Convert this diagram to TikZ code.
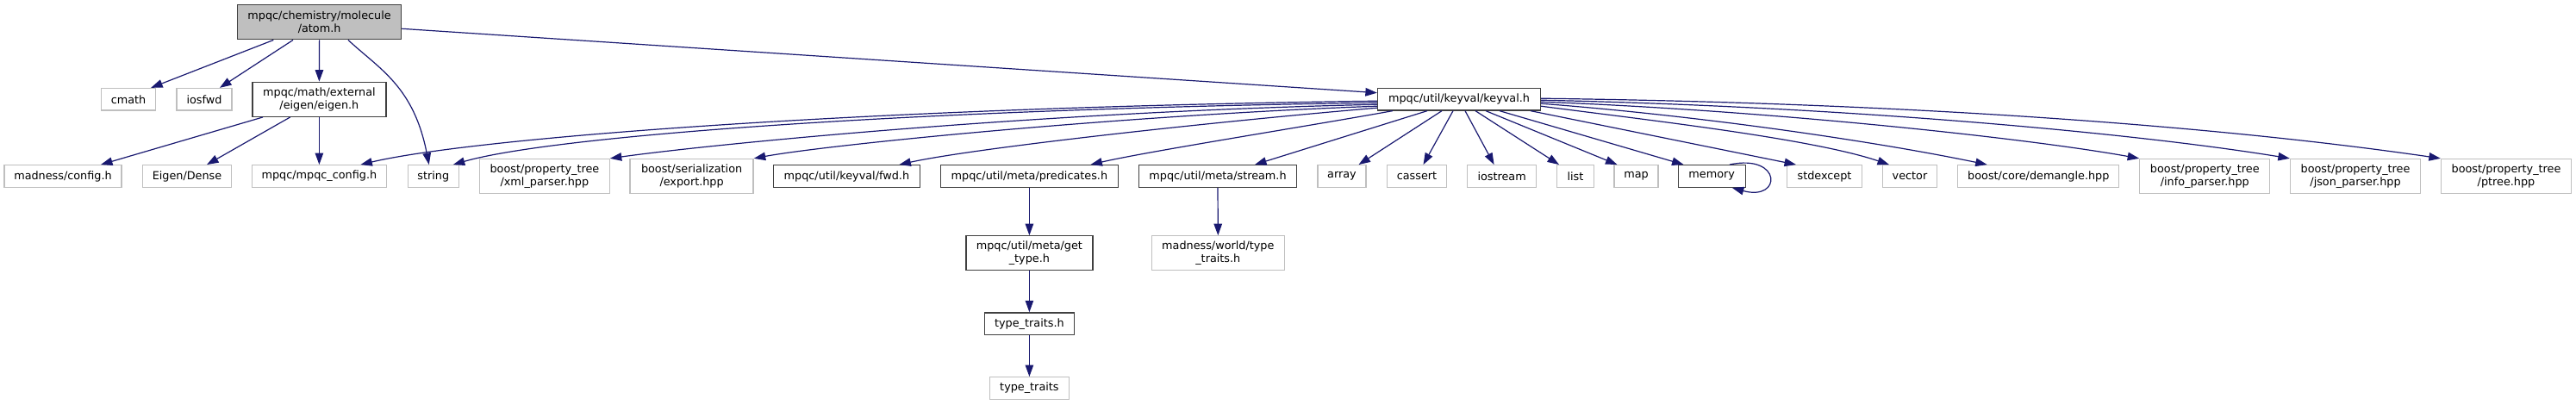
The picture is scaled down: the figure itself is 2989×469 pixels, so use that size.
\documentclass[tikz,border=0pt]{standalone}
\usepackage{fontspec}
\setmainfont{DejaVu Sans}
\usetikzlibrary{arrows.meta,calc}
\definecolor{edgeblue}{HTML}{191970}
\definecolor{extgray}{HTML}{BFBFBF}
\definecolor{intgray}{HTML}{404040}
\tikzset{
  box/.style={rectangle, inner sep=0pt, align=center, line width=1.3pt,
    font=\fontsize{12.8}{15}\selectfont, fill=white, minimum height=25.6pt},
  ext/.style={box, draw=extgray},
  intn/.style={box, draw=intgray},
  rootn/.style={box, draw=intgray, fill=extgray},
  two/.style={minimum height=40pt},
  edge/.style={draw=edgeblue, line width=1.2pt, -{Triangle[length=13.5pt,width=9.5pt]}}
}
\begin{document}
\begin{tikzpicture}[x=1pt,y=-1pt]
\useasboundingbox (0,0) rectangle (2989,469);
% nodes
\node[rootn,two,minimum width=190pt] (atom) at (370.6,25.8) {mpqc/chemistry/molecule\\/atom.h};
\node[ext,minimum width=63pt] (cmath) at (149,115.3) {cmath};
\node[ext,minimum width=64pt] (iosfwd) at (237,115.3) {iosfwd};
\node[intn,two,minimum width=155pt] (eigen) at (370.4,115.3) {mpqc/math/external\\/eigen/eigen.h};
\node[intn,minimum width=189pt] (keyval) at (1693,115.2) {mpqc/util/keyval/keyval.h};
\node[ext,minimum width=136pt] (madcfg) at (73,204.5) {madness/config.h};
\node[ext,minimum width=103pt] (dense) at (217,204.5) {Eigen/Dense};
\node[ext,minimum width=156pt] (mpqccfg) at (370.4,204.5) {mpqc/mpqc\_config.h};
\node[ext,minimum width=59pt] (string) at (502.8,204.5) {string};
\node[ext,two,minimum width=150.5pt] (xml) at (631.9,204.5) {boost/property\_tree\\/xml\_parser.hpp};
\node[ext,two,minimum width=143pt] (export) at (802.6,204.5) {boost/serialization\\/export.hpp};
\node[intn,minimum width=170pt] (fwd) at (982.4,204.5) {mpqc/util/keyval/fwd.h};
\node[intn,minimum width=206pt] (pred) at (1194.4,204.5) {mpqc/util/meta/predicates.h};
\node[intn,minimum width=183pt] (stream) at (1413,204.5) {mpqc/util/meta/stream.h};
\node[ext,minimum width=56pt] (array) at (1557,204.5) {array};
\node[ext,minimum width=69pt] (cassert) at (1644,204.5) {cassert};
\node[ext,minimum width=80pt] (iostream) at (1742.6,204.5) {iostream};
\node[ext,minimum width=43pt] (list) at (1828,204.5) {list};
\node[ext,minimum width=51pt] (map) at (1898.5,204.5) {map};
\node[intn,minimum width=78pt] (memory) at (1986.2,204.5) {memory};
\node[ext,minimum width=87pt] (stdexcept) at (2117,204.5) {stdexcept};
\node[ext,minimum width=63pt] (vector) at (2216,204.5) {vector};
\node[ext,minimum width=187pt] (demangle) at (2365.3,204.5) {boost/core/demangle.hpp};
\node[ext,two,minimum width=151pt] (info) at (2558.3,204.5) {boost/property\_tree\\/info\_parser.hpp};
\node[ext,two,minimum width=151pt] (json) at (2733,204.5) {boost/property\_tree\\/json\_parser.hpp};
\node[ext,two,minimum width=151pt] (ptree) at (2908,204.5) {boost/property\_tree\\/ptree.hpp};
\node[intn,two,minimum width=147pt] (gettype) at (1194.4,293.8) {mpqc/util/meta/get\\\_type.h};
\node[ext,two,minimum width=154pt] (wtt) at (1413.3,293.8) {madness/world/type\\\_traits.h};
\node[intn,minimum width=104pt] (tth) at (1194.4,375.7) {type\_traits.h};
\node[ext,minimum width=92pt] (tt) at (1194.4,450.5) {type\_traits};
% edges from atom
\draw[edge] ($(atom.south)+(-53.3,0)$) -- ($(cmath.north east)+(-6,0)$);
\draw[edge] ($(atom.south)+(-30.6,0)$) -- ($(iosfwd.north)+(18,0)$);
\draw[edge] (atom.south) -- (eigen.north);
\draw[edge] ($(atom.south)+(33.4,0)$) .. controls (440,80) and (480,100) .. ($(string.north)+(-5,0)$);
\draw[edge] ($(atom.east)+(0,7.5)$) -- ($(keyval.west)+(0,-7.5)$);
% edges from eigen
\draw[edge] ($(eigen.south)+(-65.4,0)$) -- ($(madcfg.north)+(44,0)$);
\draw[edge] ($(eigen.south)+(-33.7,0)$) -- ($(dense.north)+(23,0)$);
\draw[edge] (eigen.south) -- (mpqccfg.north);
% edges from keyval, left side
\draw[edge] ($(keyval.west)+(0,2)$) .. controls (1000,125) and (550,160) .. ($(mpqccfg.north)+(48,0)$);
\draw[edge] ($(keyval.west)+(0,4)$) .. controls (1050,127) and (640,158) .. ($(string.north)+(23,0)$);
\draw[edge] ($(keyval.west)+(0,6)$) .. controls (1200,130) and (820,168) .. (xml.north east);
\draw[edge] ($(keyval.west)+(0,8)$) .. controls (1300,134) and (960,168) .. (export.north east);
\draw[edge] ($(keyval.west)+(0,10)$) .. controls (1400,142) and (1130,172) .. ($(fwd.north)+(61,0)$);
\draw[edge] ($(keyval.south west)+(18,0)$) .. controls (1520,146) and (1330,176) .. ($(pred.north)+(71,0)$);
\draw[edge] ($(keyval.south)+(-37,0)$) -- ($(stream.north)+(43,0)$);
% edges from keyval, bottom
\draw[edge] ($(keyval.south)+(-20,0)$) -- ($(array.north)+(19.5,0)$);
\draw[edge] ($(keyval.south)+(-7,0)$) -- ($(cassert.north)+(7.5,0)$);
\draw[edge] ($(keyval.south)+(7,0)$) -- ($(iostream.north)+(-9,0)$);
\draw[edge] ($(keyval.south)+(19,0)$) -- ($(list.north)+(-19,0)$);
\draw[edge] ($(keyval.south)+(31,0)$) -- ($(map.north)+(-22,0)$);
\draw[edge] ($(keyval.south)+(47,0)$) -- ($(memory.north west)+(7,0)$);
\draw[edge] ($(keyval.south)+(83,0)$) -- ($(stdexcept.north)+(-33,0)$);
% edges from keyval, right side
\draw[edge] ($(keyval.east)+(0,8)$) .. controls (1900,138) and (2100,160) .. ($(vector.north)+(-24,0)$);
\draw[edge] ($(keyval.east)+(0,5)$) .. controls (1980,135) and (2180,165) .. ($(demangle.north)+(-59.6,0)$);
\draw[edge] ($(keyval.east)+(0,3)$) .. controls (2050,128) and (2350,160) .. (info.north west);
\draw[edge] ($(keyval.east)+(0,1)$) .. controls (2150,124) and (2480,155) .. (json.north west);
\draw[edge] ($(keyval.east)+(0,-1)$) .. controls (2250,120) and (2600,150) .. (ptree.north west);
% memory self loop
\draw[edge] ($(memory.north east)+(-19,0)$) .. controls (2068,178) and (2068,234) .. ($(memory.south east)+(-16,0)$);
% lower chains
\draw[edge] (pred.south) -- (gettype.north);
\draw[edge] (stream.south) -- (wtt.north);
\draw[edge] (gettype.south) -- (tth.north);
\draw[edge] (tth.south) -- (tt.north);
\end{tikzpicture}
\end{document}
